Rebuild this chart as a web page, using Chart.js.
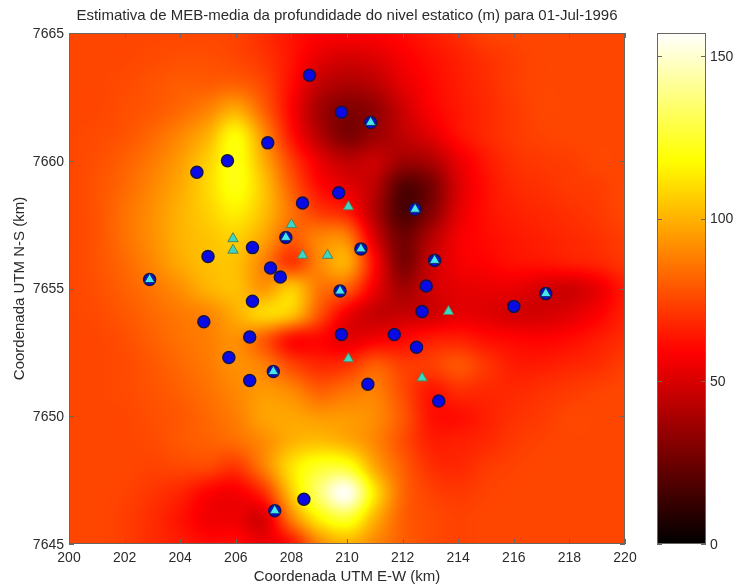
<!DOCTYPE html>
<html>
<head>
<meta charset="utf-8">
<script src="https://cdn.jsdelivr.net/npm/chart.js"></script>
<style>
  html, body { margin: 0; padding: 0; background: #fff; }
  #wrap { position: relative; width: 736px; height: 587px; overflow: hidden; }
  #wrap div { position: absolute; top: 0; height: 587px; }
  #mapBox { left: 0; width: 736px; }
  #barBox { left: 640px; width: 96px; }
</style>
</head>
<body>
<div id="wrap">
  <div id="mapBox"><canvas id="mapCanvas"></canvas></div>
  <div id="barBox"><canvas id="barCanvas"></canvas></div>
</div>
<script>
const titleText = 'Estimativa de MEB-media da profundidade do nivel estatico (m) para 01-Jul-1996';
const xTitle = 'Coordenada UTM E-W (km)';
const yTitle = 'Coordenada UTM N-S (km)';
const xTicks = [200, 202, 204, 206, 208, 210, 212, 214, 216, 218, 220];
const yTicks = [7645, 7650, 7655, 7660, 7665];
const barTicks = [0, 50, 100, 150];
const barMax = 157;

// one row per km, from 7665 down to 7645, one column per km from 200 to 220
const gridRows = [
  [75,75,75,75,75,75,74,69,63,59,58,59,61,65,69,74,75,75,75,75,75],
  [75,75,75,76,77,77,75,71,63,53,49,51,57,62,66,70,73,75,75,75,75],
  [75,75,76,78,80,80,81,75,61,45,40,43,53,60,65,69,73,75,75,75,75],
  [75,75,77,79,83,89,98,81,59,38,30,34,47,58,64,68,72,75,75,75,75],
  [75,76,78,83,90,100,117,92,63,42,29,36,44,52,62,68,72,74,75,75,75],
  [75,77,81,87,95,107,120,99,73,54,44,46,37,40,54,64,70,72,73,75,75],
  [75,78,83,90,98,109,120,104,80,61,53,43,20,27,50,62,68,70,72,73,75],
  [75,78,85,92,100,107,114,103,85,72,65,41,18,30,52,62,66,68,70,72,75],
  [75,78,85,92,100,104,107,97,81,89,88,50,26,41,56,61,64,66,68,70,73],
  [75,78,83,90,98,103,103,89,72,90,98,60,29,46,56,59,62,63,65,67,71],
  [75,77,81,86,92,100,103,94,105,86,80,55,38,48,53,54,54,50,48,54,65],
  [75,76,79,83,87,90,99,108,104,78,56,46,46,48,53,52,49,49,52,58,66],
  [75,75,77,81,85,88,92,80,62,60,53,57,60,65,66,62,60,59,61,65,69],
  [75,75,76,79,83,87,92,88,75,68,70,80,73,73,78,71,65,65,67,69,73],
  [75,75,76,78,81,85,90,94,90,81,85,88,76,64,69,68,68,70,72,74,75],
  [75,75,75,77,79,83,88,96,97,94,94,91,79,63,62,66,70,72,75,75,75],
  [75,75,75,76,79,81,84,91,100,103,99,90,77,66,66,68,72,74,75,75,75],
  [75,75,75,74,75,75,71,88,111,124,124,98,81,70,68,72,74,75,75,75,75],
  [75,75,74,71,67,59,57,69,105,135,155,112,83,74,72,74,75,75,75,75,75],
  [75,75,73,69,63,56,55,51,88,115,125,100,81,76,74,75,75,75,75,75,75],
  [75,75,73,69,65,61,61,55,63,90,100,90,81,76,74,75,75,75,75,75,75]
];

const wellsBlue = [
  [208.65,7663.35],[209.8,7661.9],[207.15,7660.7],[205.7,7660],[204.6,7659.55],
  [209.7,7658.75],[208.4,7658.35],[206.6,7656.6],[205,7656.25],[207.25,7655.8],
  [207.6,7655.45],[206.6,7654.5],[204.85,7653.7],[206.5,7653.1],[205.75,7652.3],
  [206.5,7651.4],[209.8,7653.2],[211.7,7653.2],[212.5,7652.7],[210.75,7651.25],
  [213.3,7650.6],[212.7,7654.1],[212.85,7655.1],[216,7654.3],[208.45,7646.75],
  [210.85,7661.5],[212.45,7658.1],[207.8,7657],[210.5,7656.55],[213.15,7656.1],
  [202.9,7655.35],[209.75,7654.9],[217.15,7654.8],[207.35,7651.75],[207.4,7646.3]
];
const wellsInner = [
  [210.85,7661.5],[212.45,7658.1],[207.8,7657],[210.5,7656.55],[213.15,7656.1],
  [202.9,7655.35],[209.75,7654.9],[217.15,7654.8],[207.35,7651.75],[207.4,7646.3]
];
const wellsPlain = [
  [210.05,7658.2],[208,7657.5],[205.9,7656.95],[205.9,7656.5],[208.4,7656.3],
  [209.3,7656.3],[213.65,7654.1],[210.05,7652.25],[212.7,7651.5]
];

const toXY = pts => pts.map(p => ({ x: p[0], y: p[1] }));

// same ramp as matlab "hot"
function hot(v) {
  const t = Math.max(0, Math.min(1, v / barMax));
  return [
    Math.min(1, t / 0.375) * 255,
    Math.max(0, Math.min(1, (t - 0.375) / 0.375)) * 255,
    Math.max(0, (t - 0.75) / 0.25) * 255
  ];
}

function cubic(a, b, c, d, t) {
  return b + 0.5 * t * (c - a + t * (2 * a - 5 * b + 4 * c - d + t * (3 * (b - c) + d - a)));
}

function gridValue(x, y) {
  const fx = x - xTicks[0];
  const fy = yTicks[yTicks.length - 1] - y;
  const last = gridRows.length - 1;
  const ix = Math.min(last - 1, Math.max(0, Math.floor(fx)));
  const iy = Math.min(last - 1, Math.max(0, Math.floor(fy)));
  const rowAt = (r) => {
    const row = gridRows[Math.max(0, Math.min(last, r))];
    const at = (c) => row[Math.max(0, Math.min(last, c))];
    return cubic(at(ix - 1), at(ix), at(ix + 1), at(ix + 2), fx - ix);
  };
  return cubic(rowAt(iy - 1), rowAt(iy), rowAt(iy + 1), rowAt(iy + 2), fy - iy);
}

const heatPlugin = {
  id: 'heat',
  beforeDatasetsDraw(chart) {
    const a = chart.chartArea;
    const w = Math.round(a.right - a.left), h = Math.round(a.bottom - a.top);
    const img = chart.ctx.createImageData(w, h);
    for (let j = 0; j < h; j++) {
      const yv = chart.scales.y.getValueForPixel(a.top + j + 0.5);
      for (let i = 0; i < w; i++) {
        const xv = chart.scales.x.getValueForPixel(a.left + i + 0.5);
        const c = hot(gridValue(xv, yv));
        const k = (j * w + i) * 4;
        img.data[k] = c[0]; img.data[k + 1] = c[1]; img.data[k + 2] = c[2]; img.data[k + 3] = 255;
      }
    }
    chart.ctx.putImageData(img, Math.round(a.left), Math.round(a.top));
  }
};

function drawFrame(chart, scaleList) {
  const ctx = chart.ctx, a = chart.chartArea;
  ctx.save();
  ctx.strokeStyle = '#6b6660';
  ctx.lineWidth = 1;
  ctx.strokeRect(a.left + 0.5, a.top + 0.5, a.right - a.left - 1, a.bottom - a.top - 1);
  ctx.beginPath();
  scaleList.forEach(s => {
    s.ticks.forEach(t => {
      const p = Math.round(s.getPixelForValue(t.value)) + 0.5;
      if (s.isHorizontal()) {
        ctx.moveTo(p, a.bottom); ctx.lineTo(p, a.bottom - 5);
        ctx.moveTo(p, a.top); ctx.lineTo(p, a.top + 5);
      } else {
        ctx.moveTo(a.left, p); ctx.lineTo(a.left + 5, p);
        ctx.moveTo(a.right, p); ctx.lineTo(a.right - 5, p);
      }
    });
  });
  ctx.stroke();
  ctx.restore();
}

const framePlugin = {
  id: 'frame',
  afterDatasetsDraw(chart) { drawFrame(chart, [chart.scales.x, chart.scales.y]); }
};

const barPlugin = {
  id: 'colorRamp',
  beforeDatasetsDraw(chart) {
    const a = chart.chartArea, y = chart.scales.y, ctx = chart.ctx;
    for (let p = Math.round(a.top); p < a.bottom; p++) {
      const c = hot(y.getValueForPixel(p + 0.5));
      ctx.fillStyle = 'rgb(' + c[0] + ',' + c[1] + ',' + c[2] + ')';
      ctx.fillRect(a.left, p, a.right - a.left, 1);
    }
  },
  afterDatasetsDraw(chart) { drawFrame(chart, [chart.scales.y]); }
};

const tickFont = { family: '"Liberation Sans", Arial, sans-serif', size: 14 };
const labelFont = { family: '"Liberation Sans", Arial, sans-serif', size: 15 };
const inkColor = '#2b2b2b';

new Chart(document.getElementById('mapCanvas'), {
  type: 'scatter',
  data: {
    datasets: [
      {
        label: 'wells', data: toXY(wellsBlue), order: 3, pointStyle: 'circle', pointRadius: 6,
        backgroundColor: '#0a0ae6', borderColor: '#14144a', borderWidth: 1.5
      },
      {
        label: 'inner', data: toXY(wellsInner), order: 2, pointStyle: 'triangle', pointRadius: 6,
        backgroundColor: '#45e8f0', borderColor: '#12306a', borderWidth: 1
      },
      {
        label: 'plain', data: toXY(wellsPlain), order: 1, pointStyle: 'triangle', pointRadius: 6,
        backgroundColor: '#38d8c8', borderColor: '#5f7f50', borderWidth: 1
      }
    ]
  },
  options: {
    responsive: true,
    maintainAspectRatio: false,
    animation: false,
    layout: { padding: { left: 0, right: 111, top: 0, bottom: 0 } },
    plugins: {
      legend: { display: false },
      tooltip: { enabled: false },
      title: {
        display: true, text: titleText, color: inkColor, fullSize: false,
        font: { family: labelFont.family, size: 15, weight: 'normal' },
        padding: { top: 7, bottom: 8 }
      }
    },
    scales: {
      x: {
        type: 'linear', min: 200, max: 220,
        afterBuildTicks: axis => { axis.ticks = xTicks.map(v => ({ value: v })); },
        afterFit: axis => { axis.height = 43; },
        grid: { display: false, drawTicks: false }, border: { display: false },
        ticks: { font: tickFont, color: inkColor, padding: 6, maxRotation: 0, autoSkip: false },
        title: { display: true, text: xTitle, font: labelFont, color: inkColor, padding: { top: 0, bottom: 1 } }
      },
      y: {
        type: 'linear', min: 7645, max: 7665,
        afterBuildTicks: axis => { axis.ticks = yTicks.map(v => ({ value: v })); },
        afterFit: axis => { axis.width = 69; },
        grid: { display: false, drawTicks: false }, border: { display: false },
        ticks: { font: tickFont, color: inkColor, padding: 5, labelOffset: 1, callback: v => String(v) },
        title: { display: true, text: yTitle, font: labelFont, color: inkColor, padding: { top: 11, bottom: 0 } }
      }
    }
  },
  plugins: [heatPlugin, framePlugin]
});

new Chart(document.getElementById('barCanvas'), {
  type: 'scatter',
  data: { datasets: [{ data: [], pointRadius: 0 }] },
  options: {
    responsive: true,
    maintainAspectRatio: false,
    animation: false,
    layout: { padding: { left: 17, right: 0, top: 33, bottom: 43 } },
    plugins: { legend: { display: false }, tooltip: { enabled: false } },
    scales: {
      x: { display: false, min: 0, max: 1 },
      y: {
        type: 'linear', position: 'right', min: 0, max: barMax,
        afterBuildTicks: axis => { axis.ticks = barTicks.map(v => ({ value: v })); },
        afterFit: axis => { axis.width = 30; },
        grid: { display: false, drawTicks: false }, border: { display: false },
        ticks: { font: tickFont, color: inkColor, padding: 4, labelOffset: 1 }
      }
    }
  },
  plugins: [barPlugin]
});
</script>
</body>
</html>
